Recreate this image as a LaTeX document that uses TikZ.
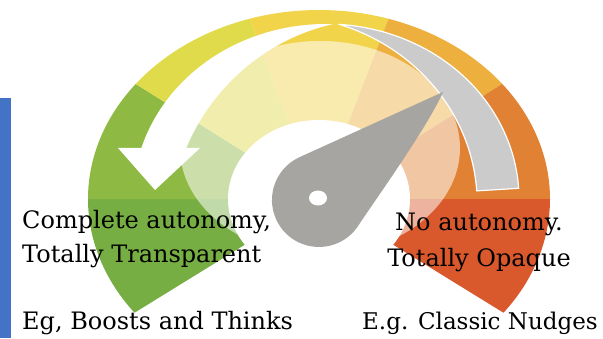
\documentclass[tikz,border=0pt]{standalone}
\usepackage{fontspec}
\setmainfont{DejaVu Serif}
\usetikzlibrary{calc}
\definecolor{gDark}{HTML}{76AE43}
\definecolor{gMid}{HTML}{8EB943}
\definecolor{yGreen}{HTML}{E0DB4A}
\definecolor{yMid}{HTML}{F2D44B}
\definecolor{yOrange}{HTML}{EDAF3E}
\definecolor{oMid}{HTML}{E18133}
\definecolor{rDark}{HTML}{D9582C}
\definecolor{needleGray}{HTML}{A6A5A1}
\definecolor{bandGray}{HTML}{CBCBCB}
\definecolor{barBlue}{HTML}{4472C4}
\begin{document}
\begin{tikzpicture}[x=1pt,y=1pt,
  lbl/.style={font=\fontsize{24}{28}\selectfont, inner sep=0pt, text=black}]
\useasboundingbox (0,0) rectangle (603,338);
\coordinate (C) at (319,139);

% coloured dial sectors
\foreach \a/\b/\c in {180/217/gDark, 142.5/180/gMid, 107.5/142.5/yGreen,
                      72.5/107.5/yMid, 37.5/72.5/yOrange, 0/37.5/oMid, -37/0/rDark}
  \fill[\c] (C) -- ($(C)+(\a:231 and 189)$)
     arc[start angle=\a, end angle=\b, x radius=231, y radius=189] -- cycle;

% pale inner fan
\begin{scope}
  \clip (C) -- ($(C)+(217:231 and 189)$)
     arc[start angle=217, end angle=-37, x radius=231, y radius=189] -- cycle;
  \fill[white, opacity=.55] (320,190) ellipse[x radius=140, y radius=107];
\end{scope}

% white hub area
\fill[white] (C) ellipse[x radius=91, y radius=79];

% curved arrow: white head part
\fill[white] plot[domain=88:163, samples=70, variable=\t]
    ({326+193*cos(\t)},{139+175*sin(\t)})
  -- plot[domain=163:88, samples=70, variable=\t]
    ({326+(193-42*sin(90*(\t-88)/75))*cos(\t)},{139+(175-42*sin(90*(\t-88)/75))*sin(\t)})
  -- cycle;
\fill[white] (118,190) -- (200,190) -- (155,148) -- cycle;

% curved arrow: grey tail part
\filldraw[fill=bandGray, draw=white, line width=1.2pt]
    plot[domain=3.5:86, samples=70, variable=\t]
    ({326+193*cos(\t)},{139+175*sin(\t)})
  -- plot[domain=86:3.5, samples=70, variable=\t]
    ({326+(193-42*sin(90*(86-\t)/82.5))*cos(\t)},{139+(175-42*sin(90*(86-\t)/82.5))*sin(\t)})
  -- cycle;

% needle
\fill[needleGray] (443,246) -- (299.5,180.8)
   arc[start angle=114.45, end angle=327.65, radius=47]
   .. controls (369.4,129.8) and (426.7,209) .. (443,246) -- cycle;
\fill[white] (318,140) ellipse[x radius=9, y radius=7.5];

% labels
\node[lbl, anchor=base west] (l1) at (22,110) {Complete autonomy,};
\node[lbl, anchor=base west] (l2) at (22,76) {Totally Transparent};
\node[lbl, anchor=base west] (l3) at (22,9) {Eg, Boosts and Thinks};
\node[lbl, anchor=base] (r1) at (479,107) {No autonomy.};
\node[lbl, anchor=base] (r2) at (479,72) {Totally Opaque};
\node[lbl, anchor=base west, font=\fontsize{23}{28}\selectfont] (r3) at (362,9) {E.g. Classic Nudges};

% side bar
\fill[barBlue] (0,0) rectangle (11,240);
\end{tikzpicture}
\end{document}
